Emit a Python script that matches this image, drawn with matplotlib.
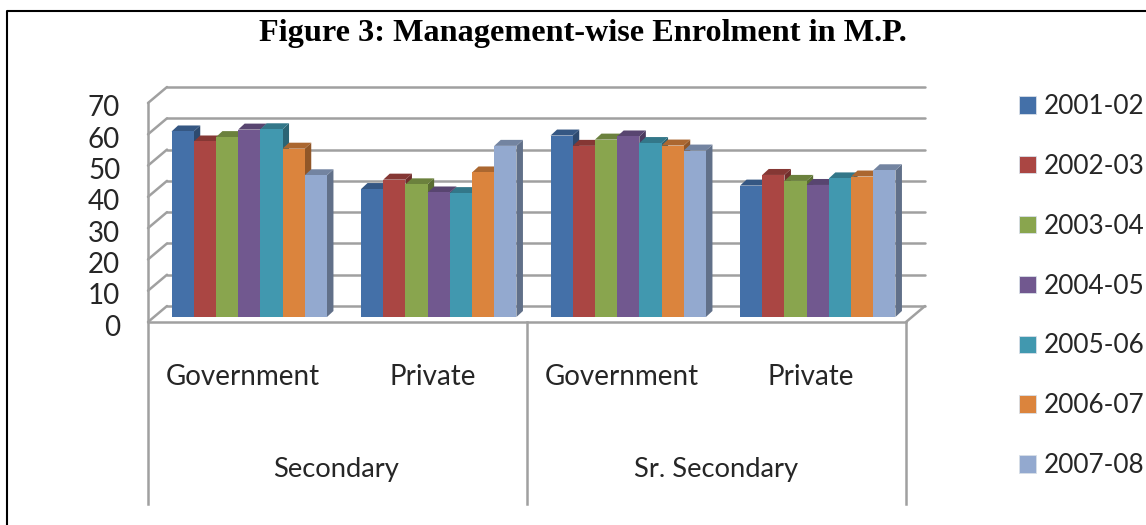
#!/usr/bin/env python3
"""Management-wise enrolment in M.P., drawn as a fake-3D clustered column chart."""
import matplotlib
matplotlib.use("Agg")
import matplotlib.pyplot as plt
import numpy as np
from matplotlib.lines import Line2D
from matplotlib.patches import Patch, Polygon
from matplotlib.transforms import ScaledTranslation

years = ["2001-02", "2002-03", "2003-04", "2004-05", "2005-06", "2006-07", "2007-08"]
managements = ["Government", "Private", "Government", "Private"]
levels = ["Secondary", "Sr. Secondary"]
yticks = [0, 10, 20, 30, 40, 50, 60, 70]

y2001 = [59.3, 40.9, 58.0, 42.0]
y2002 = [56.1, 43.9, 54.7, 45.4]
y2003 = [57.5, 42.4, 56.7, 43.5]
y2004 = [59.9, 39.8, 57.7, 42.2]
y2005 = [60.0, 39.6, 55.6, 44.3]
y2006 = [53.8, 46.2, 54.8, 44.9]
y2007 = [45.3, 54.7, 53.2, 46.9]
series = [y2001, y2002, y2003, y2004, y2005, y2006, y2007]

colors = ["#4470A8", "#AA4643", "#89A54E", "#71588F", "#4198AF", "#DB843D", "#93A9CF"]
GRID = "#a0a0a0"
TEXT = "#262626"
FONT = "Lato"

W, H = 1146, 525
PX_X = 189.5   # pixels per category
PX_Y = 3.13    # pixels per value unit

fig = plt.figure(figsize=(W / 100, H / 100), dpi=100)
ax = fig.add_axes([148 / W, 1 - 322 / H, 758 / W, 219 / H])
ax.set_xlim(-0.5, 3.5)
ax.set_ylim(0, 70)
for s in ax.spines.values():
    s.set_visible(False)

# walls: offsets of the back wall and of the bars, in data units
wall_dx, wall_dy = 19 / PX_X, 16 / PX_Y
bar_dx, bar_dy = 6.5 / PX_X, 6 / PX_Y
floor = 5 / PX_Y
shift = 6.5 / PX_X
bar_w = 22.2 / PX_X

grid_kw = dict(color=GRID, lw=1.8, clip_on=False, zorder=1, solid_capstyle="round")
for v in yticks:
    ax.plot([-0.5, -0.5 + wall_dx], [v, v + wall_dy], **grid_kw)
    ax.plot([-0.5 + wall_dx, 3.5 + wall_dx], [v + wall_dy, v + wall_dy], **grid_kw)
ax.plot([-0.5, -0.5], [0, 70], **grid_kw)
ax.plot([-0.5, 3.5], [0, 0], **grid_kw)
ax.plot([3.5, 3.5 + wall_dx], [0, wall_dy], **grid_kw)


def shade(hex_col, f):
    return tuple(np.array(matplotlib.colors.to_rgb(hex_col)) * f)


# bars go left to right so each one hides the side of the one before
z = 3
for g in range(len(managements)):
    for i, vals in enumerate(series):
        x0 = g + (i - 3.5) * bar_w + shift
        x1 = x0 + bar_w
        top = floor + vals[g]
        ax.add_patch(Polygon([(x1, floor), (x1 + bar_dx, floor + bar_dy), (x1 + bar_dx, top + bar_dy), (x1, top)],
                             closed=True, fc=shade(colors[i], 0.66), ec="none", clip_on=False, zorder=z))
        ax.add_patch(Polygon([(x0, top), (x0 + bar_dx, top + bar_dy), (x1 + bar_dx, top + bar_dy), (x1, top)],
                             closed=True, fc=shade(colors[i], 0.78), ec="none", clip_on=False, zorder=z))
        ax.bar(x0, vals[g], width=bar_w, bottom=floor, align="edge", color=colors[i], zorder=z + 1, clip_on=False)
        z += 2

ax.set_yticks(yticks)
ax.set_yticklabels([str(v) for v in yticks], fontsize=20, family=FONT, color=TEXT)
ax.set_xticks(range(len(managements)))
ax.set_xticklabels(managements, fontsize=20, family=FONT, color=TEXT)
ax.tick_params(axis="y", length=0, pad=20)
ax.tick_params(axis="x", length=0, pad=30)
# the value labels sit a little under their gridlines
for lab in ax.get_yticklabels():
    lab.set_transform(lab.get_transform() + ScaledTranslation(0, -3 / 100, fig.dpi_scale_trans))

trans = ax.get_xaxis_transform()
for x in [-0.5, 1.5, 3.5]:
    ax.plot([x, x], [0, -0.83], transform=trans, color=GRID, lw=1.8, clip_on=False)
for x, name in zip([0.49, 2.5], levels):
    ax.text(x, -0.672, name, transform=trans, ha="center", va="center", fontsize=19.7, family=FONT, color=TEXT)

handles = [Patch(fc=c, ec="#d8dfe8", lw=0.6) for c in colors]
fig.legend(handles, years, loc="upper left", bbox_to_anchor=(1019 / W, 1 - 94 / H), frameon=False,
           prop={"family": FONT, "size": 18.8}, labelcolor=TEXT, handlelength=0.65, handleheight=0.65,
           handletextpad=0.29, labelspacing=1.335, borderpad=0, borderaxespad=0)

fig.text(583 / W, 1 - 33 / H, "Figure 3: Management-wise Enrolment in M.P.", ha="center", va="center",
         fontsize=23.2, fontweight="bold", family="Liberation Serif", color="black")

# page frame
fig.add_artist(Line2D([6.5 / W, 6.5 / W, 1], [0, 1 - 11 / H, 1 - 11 / H], color="black", lw=1.5))

fig.savefig("out.png", dpi=100)
